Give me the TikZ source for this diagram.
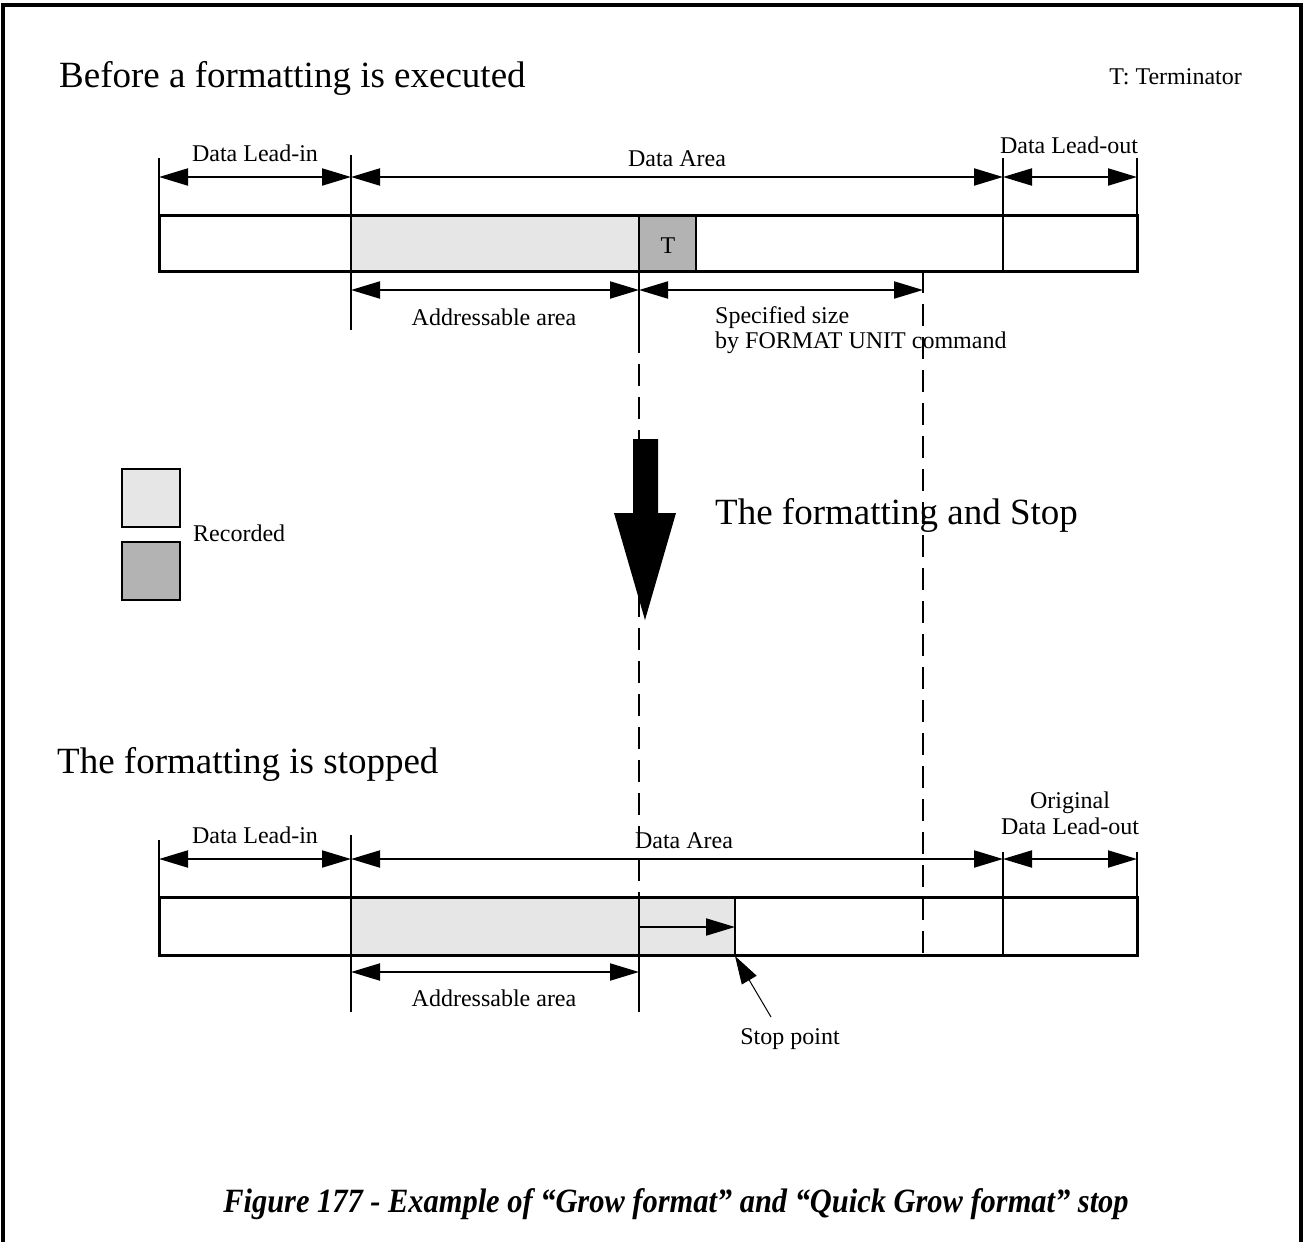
\documentclass[tikz,border=0pt]{standalone}
\usepackage{fontspec}
\setmainfont{Liberation Serif}
\usetikzlibrary{arrows.meta}
\definecolor{lightrec}{HTML}{E6E6E6}
\definecolor{darkrec}{HTML}{B3B3B3}
\begin{document}
\begin{tikzpicture}[x=1pt,y=-1pt,
  lbl/.style={font=\fontsize{24}{27}\selectfont, inner sep=0pt, anchor=base},
  big/.style={font=\fontsize{37}{40}\selectfont, inner sep=0pt, anchor=base west},
  dim/.style={line width=2pt, {Triangle[length=29pt,width=17pt]}-{Triangle[length=29pt,width=17pt]}},
  onearrow/.style={line width=2pt, -{Triangle[length=29pt,width=17pt]}},
  bar/.style={line width=3pt},
  tick/.style={line width=2pt},
  dsh/.style={line width=2pt, dash pattern=on 22pt off 11pt},
]
\fill[white] (0,0) rectangle (1304,1242);
\useasboundingbox (0,0) rectangle (1304,1242);
% frame
\draw[line width=3.5pt] (3,1245) -- (3,5) -- (1301,5) -- (1301,1245);

% titles
\node[big] (t1) at (59,87) {Before a formatting is executed};
\node[lbl, anchor=base east] (term) at (1242,84) {T: Terminator};
\node[big] (t2) at (715,524) {The formatting and Stop};
\node[big] (t3) at (57,773) {The formatting is stopped};

% ---------- top bar ----------
\fill[lightrec] (351,215) rectangle (639,271);
\fill[darkrec] (639,215) rectangle (696,271);
\draw[bar] (159,215) rectangle (1137,271);
\node[lbl] (tT) at (668,253) {T};
\draw[line width=1.5pt] (696,215) -- (696,271);
% ticks
\coordinate (u0t) at (159,158); \coordinate (u0b) at (159,271);
\coordinate (u1t) at (351,155); \coordinate (u1b) at (351,330);
\coordinate (u2t) at (1003,158); \coordinate (u2b) at (1003,271);
\coordinate (u3t) at (1137,158); \coordinate (u3b) at (1137,271);
\coordinate (u4t) at (639,215); \coordinate (u4b) at (639,331);
\coordinate (u5t) at (923,271);
\draw[tick] (u0t) -- (u0b);
\draw[tick] (u1t) -- (u1b);
\draw[tick] (u2t) -- (u2b);
\draw[tick] (u3t) -- (u3b);
\draw[tick] (u4t) -- (u4b);
% dimension arrows
\draw[dim] (159,177) -- (351,177);
\draw[dim] (351,177) -- (1003,177);
\draw[dim] (1003,177) -- (1137,177);
\draw[dim] (351,290) -- (639,290);
\draw[dim] (639,290) -- (923,290);
\node[lbl] (ulin) at (255,161) {Data Lead-in};
\node[lbl] (uarea) at (677,166) {Data Area};
\node[lbl] (ulout) at (1069,153) {Data Lead-out};
\node[lbl] (uaddr) at (494,325) {Addressable area};
\node[lbl, anchor=base west] (spec1) at (715,323) {Specified size};
\node[lbl, anchor=base west] (spec2) at (715,348) {by FORMAT UNIT command};

% dashed guides
\coordinate (l1b) at (639,897);
\coordinate (s1b) at (923,955);
\draw[dsh] (u4b) -- (l1b);
\draw[dsh] (u5t) -- (s1b);

% big arrow
\fill (633,439) -- (658,439) -- (658,513) -- (676,513) -- (645,620) -- (614,513) -- (633,513) -- cycle;

% legend
\filldraw[fill=lightrec, line width=2pt] (122,469) rectangle (180,527);
\filldraw[fill=darkrec, line width=2pt] (122,542) rectangle (180,600);
\node[lbl, anchor=base west] (rec) at (193,541) {Recorded};

% ---------- bottom bar ----------
\fill[lightrec] (351,897) rectangle (735,955);
\draw[bar] (159,897) rectangle (1137,955);
\coordinate (l0t) at (159,840); \coordinate (l0b) at (159,955);
\coordinate (l1t) at (351,835); \coordinate (l1bb) at (351,1012);
\coordinate (l2t) at (1003,852); \coordinate (l2b) at (1003,955);
\coordinate (l3t) at (1137,852); \coordinate (l3b) at (1137,955);
\coordinate (l4b) at (639,1012);
\coordinate (stopT) at (735,897); \coordinate (stopB) at (735,955);
\draw[tick] (l0t) -- (l0b);
\draw[tick] (l1t) -- (l1bb);
\draw[tick] (l2t) -- (l2b);
\draw[tick] (l3t) -- (l3b);
\draw[tick] (l1b) -- (l4b);
\draw[tick] (stopT) -- (stopB);
\draw[dim] (159,859) -- (351,859);
\draw[dim] (351,859) -- (1003,859);
\draw[dim] (1003,859) -- (1137,859);
\draw[dim] (351,972) -- (639,972);
\draw[onearrow] (639,927) -- (735,927);
\node[lbl] (llin) at (255,843) {Data Lead-in};
\node[lbl] (larea) at (684,848) {Data Area};
\node[lbl] (lorig) at (1070,808) {Original};
\node[lbl] (llout) at (1070,834) {Data Lead-out};
\node[lbl] (laddr) at (494,1006) {Addressable area};
\node[lbl] (stop) at (790,1044) {Stop point};
\coordinate (stoptail) at (771,1017);
\draw[line width=1pt, -{Triangle[length=28pt,width=17pt]}] (stoptail) -- (735,956);

% caption
\node[font=\fontsize{34}{38}\selectfont\bfseries\itshape, inner sep=0pt, anchor=base] (cap) at (676,1212) {\scalebox{0.895}[1]{Figure 177 - Example of “Grow format” and “Quick Grow format” stop}};
\end{tikzpicture}
\end{document}
